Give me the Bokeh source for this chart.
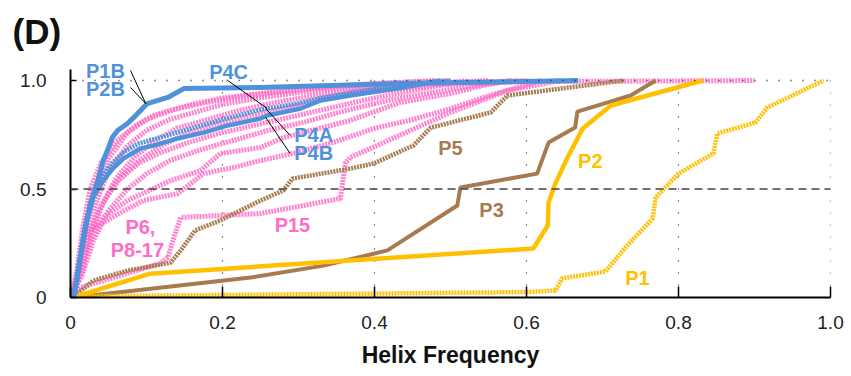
from bokeh.plotting import figure
from bokeh.models import Span, FixedTicker, ColumnDataSource
from bokeh.core.properties import value
from bokeh.embed import file_html
from bokeh.resources import INLINE

# ---- axis ticks -------------------------------------------------------
x_ticks = [0, 0.2, 0.4, 0.6, 0.8, 1.0]
x_tick_labels = ["0", "0.2", "0.4", "0.6", "0.8", "1.0"]
y_ticks = [0, 0.5, 1.0]
y_tick_labels = ["0", "0.5", "1.0"]
y_axis_top = 1.05

# ---- cumulative helix-frequency curves ---------------------------------
# P1B / P2B (identical, solid blue)
p1b_x = [0.004, 0.009, 0.017, 0.026, 0.036, 0.043, 0.05, 0.055, 0.062, 0.075, 0.083, 0.101, 0.128, 0.149, 0.25, 0.434, 0.668]
p1b_y = [0.0, 0.092, 0.276, 0.433, 0.539, 0.631, 0.691, 0.737, 0.77, 0.802, 0.829, 0.894, 0.922, 0.963, 0.968, 0.986, 1.0]

# P4A / P4B (solid blue)
p4a_x = [0.004, 0.013, 0.022, 0.03, 0.043, 0.057, 0.07, 0.092, 0.109, 0.141, 0.175, 0.207, 0.25, 0.259, 0.303, 0.329, 0.368, 0.412, 0.438, 0.487]
p4a_y = [0.0, 0.184, 0.355, 0.461, 0.539, 0.599, 0.641, 0.687, 0.70, 0.733, 0.76, 0.793, 0.825, 0.839, 0.871, 0.908, 0.931, 0.954, 0.968, 1.0]

# P4C (dotted blue)
p4c_x = [0.004, 0.012, 0.02, 0.03, 0.04, 0.055, 0.07, 0.09, 0.12, 0.15, 0.2, 0.25, 0.3, 0.33, 0.37, 0.42, 0.47, 0.5]
p4c_y = [0.0, 0.18, 0.35, 0.47, 0.55, 0.62, 0.67, 0.71, 0.74, 0.77, 0.82, 0.865, 0.895, 0.92, 0.945, 0.97, 0.99, 1.0]

# P6, P8-17 (dotted pink)
pk1_x = [0, 0.008, 0.018, 0.03, 0.05, 0.075, 0.1, 0.13, 0.16, 0.2, 0.25, 0.3, 0.35, 0.42, 0.5]
pk1_y = [0, 0.1, 0.3, 0.48, 0.64, 0.76, 0.82, 0.86, 0.89, 0.92, 0.94, 0.96, 0.975, 0.99, 1.0]
pk2_x = [0, 0.01, 0.02, 0.035, 0.05, 0.075, 0.1, 0.13, 0.17, 0.2, 0.25, 0.3, 0.36, 0.45, 0.55]
pk2_y = [0, 0.1, 0.28, 0.45, 0.58, 0.7, 0.77, 0.82, 0.86, 0.89, 0.92, 0.945, 0.965, 0.985, 1.0]
pk3_x = [0, 0.01, 0.022, 0.04, 0.06, 0.085, 0.11, 0.14, 0.18, 0.22, 0.27, 0.32, 0.38, 0.46, 0.6]
pk3_y = [0, 0.08, 0.25, 0.42, 0.55, 0.65, 0.72, 0.78, 0.82, 0.86, 0.9, 0.93, 0.96, 0.985, 1.0]
pk4_x = [0, 0.012, 0.025, 0.045, 0.065, 0.09, 0.12, 0.15, 0.19, 0.24, 0.29, 0.34, 0.4, 0.48, 0.6, 0.9]
pk4_y = [0, 0.1, 0.28, 0.45, 0.55, 0.63, 0.7, 0.75, 0.8, 0.84, 0.88, 0.92, 0.95, 0.98, 0.995, 1.0]
pk5_x = [0, 0.012, 0.025, 0.04, 0.06, 0.09, 0.12, 0.16, 0.2, 0.25, 0.3, 0.35, 0.4, 0.46, 0.52]
pk5_y = [0, 0.12, 0.3, 0.42, 0.53, 0.62, 0.67, 0.72, 0.76, 0.8, 0.84, 0.88, 0.92, 0.96, 1.0]
pk6_x = [0, 0.015, 0.03, 0.05, 0.075, 0.1, 0.13, 0.17, 0.21, 0.26, 0.31, 0.36, 0.42, 0.5, 0.58]
pk6_y = [0, 0.1, 0.26, 0.4, 0.5, 0.57, 0.63, 0.68, 0.72, 0.77, 0.81, 0.86, 0.91, 0.96, 1.0]
pk7_x = [0, 0.012, 0.025, 0.043, 0.075, 0.132, 0.171, 0.197, 0.25, 0.28, 0.368, 0.434, 0.5, 0.543, 0.58]
pk7_y = [0, 0.1, 0.25, 0.369, 0.447, 0.539, 0.585, 0.664, 0.691, 0.737, 0.816, 0.899, 0.94, 0.977, 1.0]
pk8_x = [0, 0.015, 0.026, 0.06, 0.096, 0.141, 0.175, 0.214, 0.25, 0.3, 0.35, 0.4, 0.45, 0.5, 0.55, 0.62]
pk8_y = [0, 0.12, 0.309, 0.38, 0.447, 0.479, 0.571, 0.599, 0.631, 0.67, 0.72, 0.78, 0.82, 0.87, 0.93, 1.0]
pk9_x = [0, 0.008, 0.016, 0.026, 0.04, 0.06, 0.085, 0.11, 0.14, 0.18, 0.23, 0.3, 0.38, 0.48]
pk9_y = [0, 0.12, 0.32, 0.5, 0.62, 0.72, 0.79, 0.84, 0.87, 0.9, 0.93, 0.955, 0.98, 1.0]
p15_x = [0, 0.013, 0.118, 0.128, 0.136, 0.145, 0.25, 0.355, 0.362, 0.368, 0.5, 0.575, 0.645]
p15_y = [0, 0.046, 0.157, 0.184, 0.276, 0.369, 0.387, 0.456, 0.622, 0.645, 0.853, 0.954, 1.0]

# P5 (dotted brown)
p5_x = [0.003, 0.03, 0.075, 0.132, 0.145, 0.164, 0.197, 0.25, 0.28, 0.292, 0.368, 0.399, 0.451, 0.474, 0.5, 0.553, 0.575, 0.645, 0.728]
p5_y = [0.0, 0.078, 0.124, 0.161, 0.217, 0.309, 0.355, 0.447, 0.493, 0.548, 0.594, 0.618, 0.70, 0.783, 0.806, 0.853, 0.931, 0.963, 1.0]

# P3 (solid brown)
p3_x = [0.003, 0.237, 0.333, 0.417, 0.509, 0.513, 0.614, 0.629, 0.664, 0.667, 0.707, 0.737, 0.77]
p3_y = [0.0, 0.092, 0.147, 0.217, 0.424, 0.507, 0.571, 0.714, 0.783, 0.857, 0.899, 0.931, 1.0]

# P2 (solid yellow)
p2_x = [0.003, 0.105, 0.609, 0.628, 0.629, 0.638, 0.654, 0.674, 0.711, 0.832]
p2_y = [0.0, 0.11, 0.226, 0.332, 0.438, 0.525, 0.645, 0.779, 0.885, 1.0]

# P1 (dotted yellow)
p1_x = [0.0, 0.276, 0.4, 0.6, 0.638, 0.647, 0.704, 0.73, 0.766, 0.77, 0.8, 0.846, 0.851, 0.901, 0.917, 0.991]
p1_y = [0.005, 0.014, 0.018, 0.025, 0.032, 0.088, 0.12, 0.23, 0.364, 0.461, 0.571, 0.664, 0.756, 0.806, 0.876, 1.0]

# ---- curve labels -----------------------------------------------------
lab_text = ["P1B", "P2B", "P4C", "P4A", "P4B", "P5", "P3", "P2", "P1", "P15", "P6,", "P8-17"]
lab_x = [0.046, 0.046, 0.208, 0.32, 0.32, 0.5, 0.554, 0.684, 0.746, 0.292, 0.092, 0.088]
lab_y = [1.046, 0.963, 1.041, 0.751, 0.664, 0.687, 0.401, 0.631, 0.088, 0.332, 0.323, 0.217]

BLUE = "#4f92db"
PINK = "#ff6cc6"
BROWN = "#a87b4f"
GOLD = "#ffc000"
lab_color = [BLUE, BLUE, BLUE, BLUE, BLUE, BROWN, BROWN, GOLD, GOLD, PINK, PINK, PINK]

# leader lines from labels to curves
lead_x0 = [0.079, 0.079, 0.207, 0.257, 0.257]
lead_y0 = [1.046, 0.968, 1.0, 0.871, 0.829]
lead_x1 = [0.099, 0.099, 0.259, 0.289, 0.289]
lead_y1 = [0.894, 0.894, 0.871, 0.747, 0.664]

FONT = "Liberation Sans"
HATCH = "2 1"

p = figure(width=851, height=376, x_range=(0, 1.0), y_range=(0, 1.12),
           output_backend="svg", toolbar_location=None,
           min_border_left=70, min_border_right=21,
           min_border_top=54, min_border_bottom=79)
p.outline_line_color = None
p.background_fill_color = "white"
p.border_fill_color = "white"

# panel letter
p.title.text = "(D)"
p.title.text_font = FONT
p.title.text_font_style = "bold"
p.title.text_font_size = "35px"
p.title.text_color = "#111111"
p.title.align = "left"
p.title.vertical_align = "top"
p.title.offset = -58
p.title.standoff = 4

# axes
for ax in (p.xaxis[0], p.yaxis[0]):
    ax.axis_line_width = 2
    ax.axis_line_color = "black"
    ax.major_tick_line_color = "black"
    ax.major_tick_line_width = 1.5
    ax.major_tick_out = 0
    ax.minor_tick_line_color = None
    ax.major_label_text_font = FONT
    ax.major_label_text_font_size = "19px"
    ax.major_label_text_color = "#222222"

p.xaxis.ticker = FixedTicker(ticks=x_ticks)
p.xaxis.major_label_overrides = {t: s for t, s in zip(x_ticks, x_tick_labels)}
p.xaxis.major_tick_in = 11
p.xaxis.major_label_standoff = 18
p.xaxis.axis_label = "Helix Frequency"
p.xaxis.axis_label_text_font = FONT
p.xaxis.axis_label_text_font_style = "bold"
p.xaxis.axis_label_text_font_size = "23px"
p.xaxis.axis_label_text_color = "#111111"
p.xaxis.axis_label_standoff = 10

p.yaxis.ticker = FixedTicker(ticks=y_ticks)
p.yaxis.major_label_overrides = {t: s for t, s in zip(y_ticks, y_tick_labels)}
p.yaxis.major_tick_in = 6
p.yaxis.major_label_standoff = 24
p.yaxis.bounds = (0, y_axis_top)

# grid: dotted verticals, dotted line at 1.0, dashed line at 0.5
p.xgrid.visible = False
p.ygrid.visible = False
grid_x = x_ticks[1:]
p.segment(x0=grid_x, y0=[0] * len(grid_x), x1=grid_x, y1=[y_axis_top] * len(grid_x),
          line_color="#222222", line_dash="1 11", line_width=1.2)
p.add_layout(Span(location=1.0, dimension="width", line_color="#222222",
                  line_dash="1 11", line_width=1.5))
p.add_layout(Span(location=0.5, dimension="width", line_color="#444444",
                  line_dash="8 5", line_width=1.3))

# pink family (dotted)
for xs, ys in [(pk8_x, pk8_y), (pk7_x, pk7_y), (pk6_x, pk6_y), (pk5_x, pk5_y),
               (pk4_x, pk4_y), (pk3_x, pk3_y), (pk2_x, pk2_y), (pk1_x, pk1_y),
               (pk9_x, pk9_y), (p15_x, p15_y)]:
    p.line(xs, ys, line_color=PINK, line_width=5, line_dash=HATCH, line_alpha=0.85)

# brown / gold series
p.line(p5_x, p5_y, line_color=BROWN, line_width=4.5, line_dash=HATCH)
p.line(p3_x, p3_y, line_color=BROWN, line_width=4)
p.line(p1_x, p1_y, line_color=GOLD, line_width=4.5, line_dash=HATCH)
p.line(p2_x, p2_y, line_color=GOLD, line_width=4.5)

# blue series
p.line(p4c_x, p4c_y, line_color=BLUE, line_width=4.5, line_dash=HATCH)
p.line(p4a_x, p4a_y, line_color=BLUE, line_width=4.5)
p.line(p1b_x, p1b_y, line_color=BLUE, line_width=5)

# leader lines
p.segment(lead_x0, lead_y0, lead_x1, lead_y1, line_color="black", line_width=1)

# curve labels
src = ColumnDataSource(dict(x=lab_x, y=lab_y, text=lab_text, color=lab_color))
p.text(x="x", y="y", text="text", source=src, text_color="color",
       text_font=value(FONT), text_font_style="bold", text_font_size="20px",
       text_align="center", text_baseline="middle")

open("out.html", "w").write(file_html(p, INLINE))
